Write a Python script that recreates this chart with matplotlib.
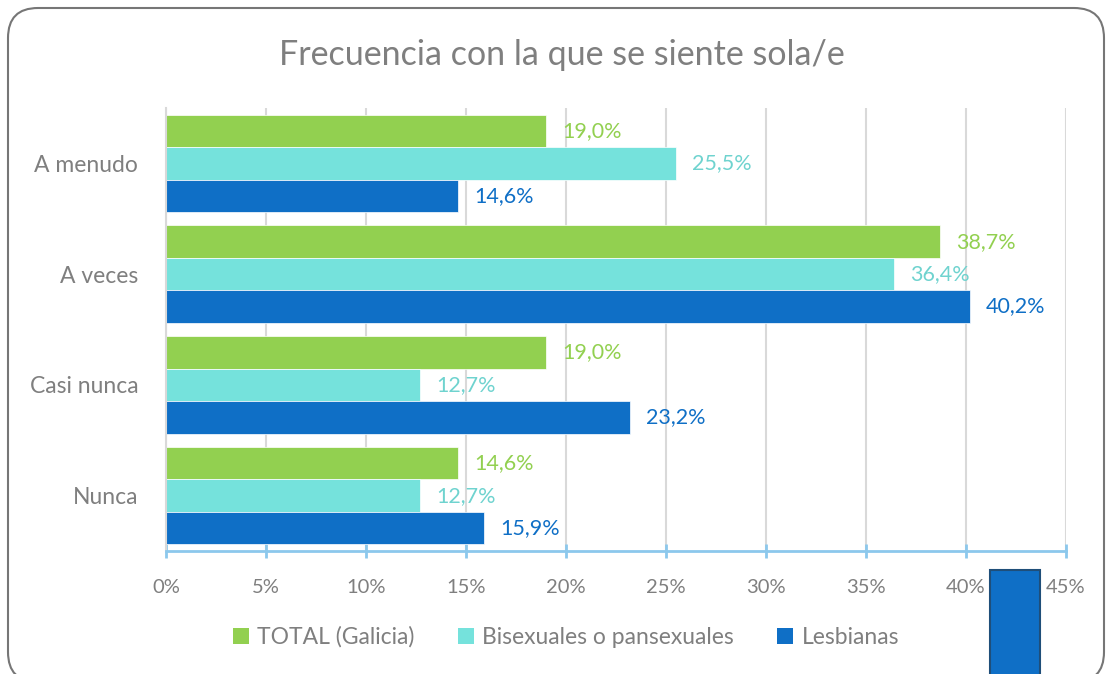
import matplotlib
matplotlib.use('agg')
import matplotlib.pyplot as plt
from matplotlib.patches import Patch, FancyBboxPatch, Rectangle
from matplotlib.transforms import IdentityTransform
import numpy as np

categories = ['A menudo', 'A veces', 'Casi nunca', 'Nunca']
series_names = ['TOTAL (Galicia)', 'Bisexuales o pansexuales', 'Lesbianas']
total_galicia = [19.0, 38.7, 19.0, 14.6]
bisexuales = [25.5, 36.4, 12.7, 12.7]
lesbianas = [14.6, 40.2, 23.2, 15.9]
x_ticks = [0, 5, 10, 15, 20, 25, 30, 35, 40, 45]

bar_colors = ['#92D050', '#75E2DC', '#0F6FC6']
label_colors = ['#92D050', '#6FD3CF', '#0F6FC6']
grey = '#7F7F7F'

plt.rcParams['font.family'] = ['Lato', 'DejaVu Sans']

fig = plt.figure(figsize=(11.12, 6.74), dpi=100)
ax = fig.add_axes([0.1493, 0.1825, 0.8093, 0.6573])

y = np.arange(len(categories))
h = 0.293
all_series = [total_galicia, bisexuales, lesbianas]
for i, vals in enumerate(all_series):
    pos = y + (i - 1) * h
    ax.barh(pos, vals, height=h, color=bar_colors[i], edgecolor='white',
            linewidth=0.5, label=series_names[i], zorder=2)
    for p, v in zip(pos, vals):
        ax.text(v + 0.8, p, f'{v:.1f}%'.replace('.', ','), color=label_colors[i],
                fontsize=15.5, va='center', ha='left')

ax.set_xlim(0, 45)
ax.set_ylim(len(categories) - 0.5, -0.5)
ax.set_xticks(x_ticks)
ax.set_xticklabels([f'{t}%' for t in x_ticks])
ax.set_yticks(y)
ax.set_yticklabels(categories)

ax.grid(axis='x', color='#D9D9D9', linewidth=1.5, zorder=0)
ax.set_axisbelow(True)
for s in ['top', 'right']:
    ax.spines[s].set_visible(False)
ax.spines['left'].set_color('#D9D9D9')
ax.spines['left'].set_linewidth(1.5)
ax.spines['bottom'].set_color('#8CC8EC')
ax.spines['bottom'].set_linewidth(2)
ax.tick_params(axis='x', direction='inout', length=10, width=2, color='#8CC8EC',
               labelcolor=grey, labelsize=14.5, pad=15)
ax.tick_params(axis='y', length=0, labelcolor=grey, labelsize=16.5, pad=20)

fig.text(0.5055, 0.918, 'Frecuencia con la que se siente sola/e', ha='center', va='center',
         fontsize=24.5, color=grey)

handles = [Patch(facecolor=c, edgecolor='none') for c in bar_colors]
fig.legend(handles, series_names, loc='center', bbox_to_anchor=(0.509, 0.055), ncol=3,
           frameon=False, fontsize=16.5, labelcolor=grey, handlelength=0.7,
           handleheight=0.7, handletextpad=0.35, columnspacing=1.9)

# outer rounded frame
frame = FancyBboxPatch((8, -8), 1096, 674, boxstyle='round,pad=0,rounding_size=30',
                       transform=IdentityTransform(), facecolor='none',
                       edgecolor='#767676', linewidth=1.5)
fig.patches.append(frame)

# stray blue block at the bottom right of the original image
fig.patches.append(Rectangle((990, -10), 50, 114, transform=IdentityTransform(),
                             facecolor='#0F6FC6', edgecolor='#1F4E79', linewidth=1.5))

fig.savefig('out.png', dpi=100)
